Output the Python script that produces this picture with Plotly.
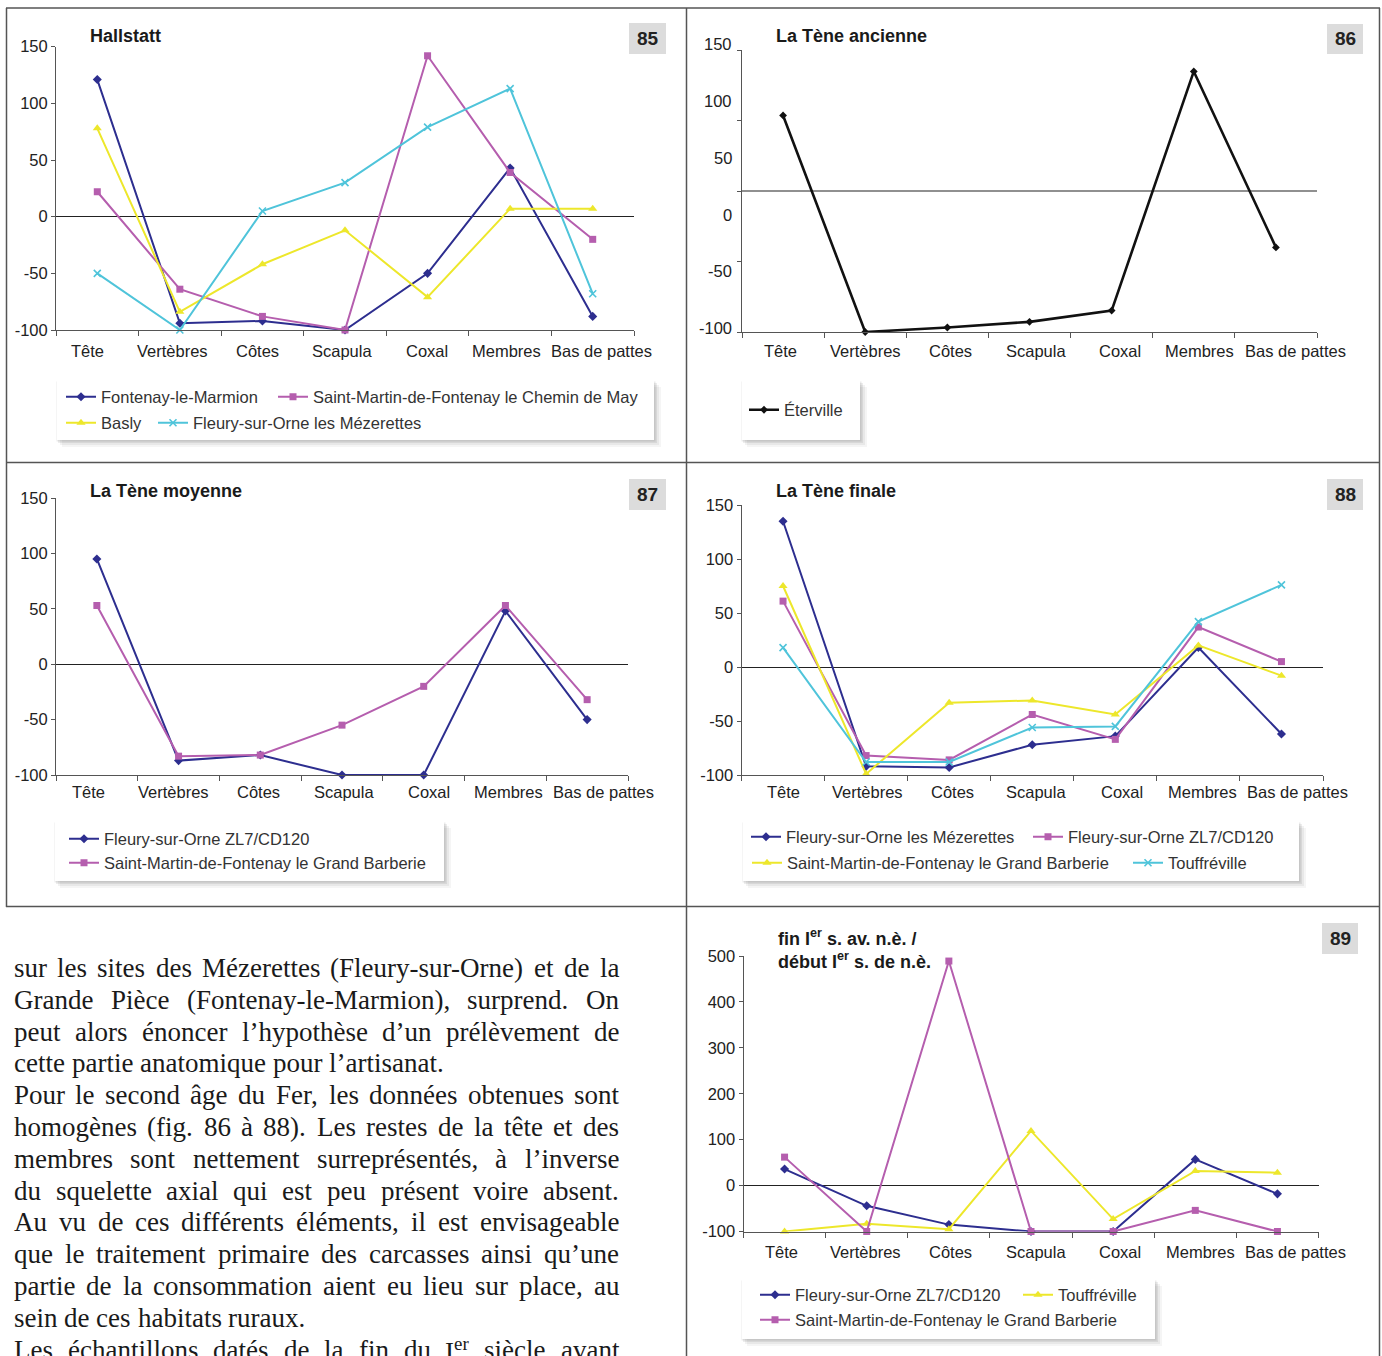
import unicodedata
import plotly.graph_objects as go

W, H = 1382, 1356


def px(x):
    return x / W


def py(y):
    return 1 - y / H


# ---------------- DATA ----------------
CATEGORIES = ["Tête", "Vertèbres", "Côtes", "Scapula", "Coxal", "Membres", "Bas de pattes"]
Y_TICKS_A = [-100, -50, 0, 50, 100, 150]
Y_TICKS_B = [-100, 0, 100, 200, 300, 400, 500]

# Fig. 85 - Hallstatt
H_FONTENAY = [121, -94, -92, -100, -50, 43, -88]
H_SMF_MAY = [22, -64, -88, -100, 142, 39, -20]
H_BASLY = [78, -84, -42, -12, -71, 7, 7]
H_FLEURY_MEZ = [-50, -100, 5, 30, 79, 113, -68]

# Fig. 86 - La Tène ancienne
A_ETERVILLE = [92, -100, -96, -91, -81, 131, -25]
A_REFLINE = 25
A_TICK_MARKS = [-100, -37.5, 25, 87.5, 150]
A_TICK_LABELS = ["150", "100", "50", "0", "-50", "-100"]

# Fig. 87 - La Tène moyenne
M_FLEURY_ZL7 = [95, -87, -82, -100, -100, 48, -50]
M_SMF_GB = [53, -83, -82, -55, -20, 53, -32]

# Fig. 88 - La Tène finale
F_FLEURY_MEZ = [135, -92, -93, -72, -64, 18, -62]
F_FLEURY_ZL7 = [61, -82, -86, -44, -67, 37, 5]
F_SMF_GB = [75, -99, -33, -31, -44, 20, -8]
F_TOUFFREVILLE = [18, -88, -88, -56, -55, 42, 76]

# Fig. 89 - fin Ier s. av. / début Ier s.
E_FLEURY_ZL7 = [36, -44, -85, -100, -100, 57, -18]
E_SMF_GB = [62, -100, 489, -100, -100, -54, -100]
E_TOUFFREVILLE = [-100, -83, -95, 119, -73, 32, 28]

TEXT_LINES = [
    "sur les sites des Mézerettes (Fleury-sur-Orne) et de la",
    "Grande Pièce (Fontenay-le-Marmion), surprend. On",
    "peut alors énoncer l’hypothèse d’un prélèvement de",
    "cette partie anatomique pour l’artisanat.",
    "Pour le second âge du Fer, les données obtenues sont",
    "homogènes (fig. 86 à 88). Les restes de la tête et des",
    "membres sont nettement surreprésentés, à l’inverse",
    "du squelette axial qui est peu présent voire absent.",
    "Au vu de ces différents éléments, il est envisageable",
    "que le traitement primaire des carcasses ainsi qu’une",
    "partie de la consommation aient eu lieu sur place, au",
    "sein de ces habitats ruraux.",
    "Les échantillons datés de la fin du I<sup>er</sup> siècle avant",
]
TEXT_LAST_OF_PARA = {3, 11}

# ---------------- STYLES ----------------
SANS = "Liberation Sans, Arial, sans-serif"
SERIF = "Liberation Serif, Times New Roman, serif"
AXC = "#555555"
FS = 16.5
NAVY = dict(color="#2d2e8f", symbol="diamond", size=7)
PURPLE = dict(color="#b55eae", symbol="square", size=7)
YELLOW = dict(color="#ede72b", symbol="triangle-up", size=8)
CYAN = dict(color="#4fc4da", symbol="x-thin", size=7)
BLACK = dict(color="#111111", symbol="diamond", size=6)

panels = [
    dict(n=1, xdom=(56, 634), ydom=(46.7, 330), yr=(-100, 150), ticks=Y_TICKS_A,
         lab_dy=21, lab_dx=[-9.5, -7.5, -4.5, -3, -1, -3.5, 8.5],
         title="<b>Hallstatt</b>", title_xy=(88, 36), num="85", numbox=(629, 23, 666, 54),
         legbox=(57, 381, 654, 440),
         series=[("Fontenay-le-Marmion", H_FONTENAY, NAVY, (101, 397), 2),
                 ("Saint-Martin-de-Fontenay le Chemin de May", H_SMF_MAY, PURPLE, (313, 397), 2),
                 ("Basly", H_BASLY, YELLOW, (101, 423), 2),
                 ("Fleury-sur-Orne les Mézerettes", H_FLEURY_MEZ, CYAN, (193, 423), 2)]),
    dict(n=2, xdom=(742, 1317), ydom=(50, 332), yr=(-100, 150), ticks=None,
         lab_dy=19, lab_dx=[-2.5, 0, 3, 6, 8.5, 6, 19.5],
         title="<b>La Tène ancienne</b>", title_xy=(774, 36), num="86", numbox=(1327, 24, 1363, 54),
         legbox=(742, 381, 860, 440),
         series=[("Éterville", A_ETERVILLE, BLACK, (784, 410), 2.6)]),
    dict(n=3, xdom=(56, 628), ydom=(498, 775), yr=(-100, 150), ticks=Y_TICKS_A,
         lab_dy=17, lab_dx=[-8, -5, -2, 1.5, 5, 3, 16],
         title="<b>La Tène moyenne</b>", title_xy=(88, 491), num="87", numbox=(629, 479, 666, 510),
         legbox=(55, 822, 444, 881),
         series=[("Fleury-sur-Orne ZL7/CD120", M_FLEURY_ZL7, NAVY, (104, 839), 2),
                 ("Saint-Martin-de-Fontenay le Grand Barberie", M_SMF_GB, PURPLE, (104, 863), 2)]),
    dict(n=4, xdom=(741.5, 1323), ydom=(505, 775), yr=(-100, 150), ticks=Y_TICKS_A,
         lab_dy=17, lab_dx=[0, 1.5, 3, 4, 7, 4, 16],
         title="<b>La Tène finale</b>", title_xy=(774, 491), num="88", numbox=(1327, 479, 1363, 510),
         legbox=(743, 822, 1299, 881),
         series=[("Fleury-sur-Orne les Mézerettes", F_FLEURY_MEZ, NAVY, (786, 837), 2),
                 ("Fleury-sur-Orne ZL7/CD120", F_FLEURY_ZL7, PURPLE, (1068, 837), 2),
                 ("Saint-Martin-de-Fontenay le Grand Barberie", F_SMF_GB, YELLOW, (787, 863), 2),
                 ("Touffréville", F_TOUFFREVILLE, CYAN, (1168, 863), 2)]),
    dict(n=5, xdom=(743.5, 1318.5), ydom=(956, 1231.5), yr=(-100, 500), ticks=Y_TICKS_B,
         lab_dy=20.5, lab_dx=[-3.5, -1, 1.5, 4.5, 7, 5, 18],
         title="<b>fin I<sup>er</sup> s. av. n.è. /<br>début I<sup>er</sup> s. de n.è.</b>",
         title_xy=(776, 949), num="89", numbox=(1322, 923, 1358, 954),
         legbox=(742, 1280, 1155, 1339),
         series=[("Fleury-sur-Orne ZL7/CD120", E_FLEURY_ZL7, NAVY, (795, 1295), 2),
                 ("Touffréville", E_TOUFFREVILLE, YELLOW, (1058, 1295), 2),
                 ("Saint-Martin-de-Fontenay le Grand Barberie", E_SMF_GB, PURPLE, (795, 1320), 2)]),
]

fig = go.Figure()
layout = dict(template="none", width=W, height=H, autosize=False,
              margin=dict(l=0, r=0, t=0, b=0, pad=0),
              paper_bgcolor="white", plot_bgcolor="rgba(0,0,0,0)",
              font=dict(family=SANS, color="#222"), hovermode=False)
shapes, annotations = [], []

leg_idx = 0
for p in panels:
    n = p["n"]
    xa = "xaxis" if n == 1 else f"xaxis{n}"
    ya = "yaxis" if n == 1 else f"yaxis{n}"
    xr = "x" if n == 1 else f"x{n}"
    yrf = "y" if n == 1 else f"y{n}"
    layout[xa] = dict(domain=[px(p["xdom"][0]), px(p["xdom"][1])], anchor=yrf,
                      type="category", categoryorder="array", categoryarray=CATEGORIES,
                      range=[-0.5, len(CATEGORIES) - 0.5], showline=True, linecolor=AXC,
                      linewidth=1, ticks="outside", tickson="boundaries", ticklen=5,
                      tickcolor=AXC, automargin=False, showticklabels=False,
                      showgrid=False, zeroline=False, fixedrange=True)
    # category labels, anchored on the category positions of the axis
    for cat, dx in zip(CATEGORIES, p["lab_dx"]):
        annotations.append(dict(text=cat, xref=xr, yref=f"{yrf} domain", x=cat, y=0,
                                xshift=dx, yshift=-p["lab_dy"], xanchor="center",
                                yanchor="middle", showarrow=False,
                                font=dict(size=FS, color="#222", family=SANS)))
    ydict = dict(domain=[py(p["ydom"][1]), py(p["ydom"][0])], anchor=xr,
                 range=list(p["yr"]), showline=True, linecolor=AXC, linewidth=1,
                 ticks="outside", ticklen=4, tickcolor=AXC, showgrid=False, automargin=False,
                 tickfont=dict(size=FS, color="#222", family=SANS), fixedrange=True)
    if p["ticks"] is not None:
        ydict.update(tickmode="array", tickvals=p["ticks"],
                     ticktext=[str(v) for v in p["ticks"]],
                     zeroline=True, zerolinecolor="#222", zerolinewidth=1)
    else:
        ydict.update(tickmode="array", tickvals=A_TICK_MARKS,
                     showticklabels=False, zeroline=False)
        shapes.append(dict(type="line", xref=f"{xr} domain", yref=yrf, x0=0, x1=1,
                           y0=A_REFLINE, y1=A_REFLINE, line=dict(color="#222", width=1.2),
                           layer="below"))
        lab_y = [44, 101, 158, 215, 271, 328]
        for lab, yy in zip(A_TICK_LABELS, lab_y):
            annotations.append(dict(text=lab, xref="paper", yref="paper", x=px(734),
                                    y=py(yy), xanchor="right", yanchor="middle",
                                    showarrow=False, font=dict(size=FS, color="#222", family=SANS)))
    layout[ya] = ydict

    # title
    tx, ty = p["title_xy"]
    annotations.append(dict(text=p["title"], xref="paper", yref="paper", x=px(tx), y=py(ty),
                            xanchor="left", yanchor="middle", align="left", showarrow=False,
                            font=dict(size=18, color="#1a1a1a", family=SANS)))
    # number box
    bx0, by0, bx1, by1 = p["numbox"]
    shapes.append(dict(type="rect", xref="paper", yref="paper", x0=px(bx0), x1=px(bx1),
                       y0=py(by1), y1=py(by0), fillcolor="#dcdcdc", line=dict(width=0)))
    annotations.append(dict(text=f"<b>{p['num']}</b>", xref="paper", yref="paper",
                            x=px((bx0 + bx1) / 2), y=py((by0 + by1) / 2), xanchor="center",
                            yanchor="middle", showarrow=False,
                            font=dict(size=19, color="#222", family=SANS)))
    # legend box with shadow
    lx0, ly0, lx1, ly1 = p["legbox"]
    for d, op in [(7, 0.04), (5, 0.05), (3, 0.07), (1.5, 0.08)]:
        shapes.append(dict(type="rect", xref="paper", yref="paper", x0=px(lx0 + d - 2),
                           x1=px(lx1 + d), y0=py(ly1 + d), y1=py(ly0 + d - 1),
                           fillcolor=f"rgba(0,0,0,{op})", line=dict(width=0)))
    shapes.append(dict(type="rect", xref="paper", yref="paper", x0=px(lx0), x1=px(lx1),
                       y0=py(ly1), y1=py(ly0), fillcolor="white", line=dict(width=0)))

    for name, vals, st, (ltx, lty), lw in p["series"]:
        leg_idx += 1
        lname = "legend" if leg_idx == 1 else f"legend{leg_idx}"
        mk = dict(symbol=st["symbol"], size=st["size"], color=st["color"])
        if st["symbol"] == "x-thin":
            mk["line"] = dict(width=1.6, color=st["color"])
        else:
            mk["line"] = dict(width=0)
        fig.add_trace(go.Scatter(x=CATEGORIES, y=vals, name=name, mode="lines+markers",
                                 line=dict(color=st["color"], width=lw), marker=mk,
                                 xaxis=xr, yaxis=yrf, legend=lname, showlegend=True,
                                 cliponaxis=False))
        layout[lname] = dict(x=px(ltx - 40), y=py(lty), xanchor="left", yanchor="middle",
                             bgcolor="rgba(0,0,0,0)", borderwidth=0,
                             font=dict(size=FS, color="#333", family=SANS),
                             itemclick=False, itemdoubleclick=False)

# frame lines
FR = "#555555"
for (x0, y0, x1, y1) in [(6, 8, 1380, 8), (6.5, 8, 6.5, 907), (686.5, 8, 686.5, 1356),
                         (1379.5, 8, 1379.5, 1356), (6, 462.5, 1380, 462.5),
                         (6, 906.5, 1380, 906.5)]:
    shapes.append(dict(type="line", xref="paper", yref="paper", x0=px(x0), x1=px(x1),
                       y0=py(y0), y1=py(y1), line=dict(color=FR, width=1.5)))

# ---------------- body text (justified, word by word) ----------------
TIMES = {" ": 250, "(": 333, ")": 333, ",": 250, "-": 333, ".": 250, "’": 333, "/": 278,
         "0": 500, "1": 500, "2": 500, "3": 500, "4": 500, "5": 500, "6": 500, "7": 500,
         "8": 500, "9": 500, ":": 278, ";": 278,
         "A": 722, "B": 667, "C": 667, "D": 722, "E": 611, "F": 556, "G": 722, "H": 722,
         "I": 333, "J": 389, "K": 722, "L": 611, "M": 889, "N": 722, "O": 722, "P": 556,
         "Q": 722, "R": 667, "S": 556, "T": 611, "U": 722, "V": 722, "W": 944, "X": 722,
         "Y": 722, "Z": 611,
         "a": 444, "b": 500, "c": 444, "d": 500, "e": 444, "f": 333, "g": 500, "h": 500,
         "i": 278, "j": 278, "k": 500, "l": 278, "m": 778, "n": 500, "o": 500, "p": 500,
         "q": 500, "r": 333, "s": 389, "t": 278, "u": 500, "v": 500, "w": 722, "x": 500,
         "y": 500, "z": 444}


def word_width(w, size):
    tot = 0.0
    sup = False
    i = 0
    while i < len(w):
        if w.startswith("<sup>", i):
            sup = True
            i += 5
            continue
        if w.startswith("</sup>", i):
            sup = False
            i += 6
            continue
        ch = w[i]
        base = unicodedata.normalize("NFD", ch)[0]
        cw = TIMES.get(ch, TIMES.get(base, 500))
        tot += cw * (0.7 if sup else 1.0)
        i += 1
    return tot * size / 1000.0


TX0, TX1 = 13, 618
TSIZE = 27
TY0, TDY = 968, 31.8
for k, line in enumerate(TEXT_LINES):
    words = line.split(" ")
    widths = [word_width(w, TSIZE) for w in words]
    if k in TEXT_LAST_OF_PARA or len(words) == 1:
        gap = TIMES[" "] * TSIZE / 1000.0
    else:
        gap = (TX1 - TX0 - sum(widths)) / (len(words) - 1)
    x = TX0
    yy = TY0 + k * TDY
    for w, ww in zip(words, widths):
        annotations.append(dict(text=w, xref="paper", yref="paper", x=px(x), y=py(yy),
                                xanchor="left", yanchor="middle", showarrow=False,
                                borderpad=0, font=dict(size=TSIZE, color="#1a1a1a", family=SERIF)))
        x += ww + gap

layout["shapes"] = shapes
layout["annotations"] = annotations
fig.update_layout(**layout)

fig.write_html("out.html", config={"displayModeBar": False, "staticPlot": True, "responsive": False},
               post_script="document.body.style.margin='0';document.body.style.overflow='hidden';")
